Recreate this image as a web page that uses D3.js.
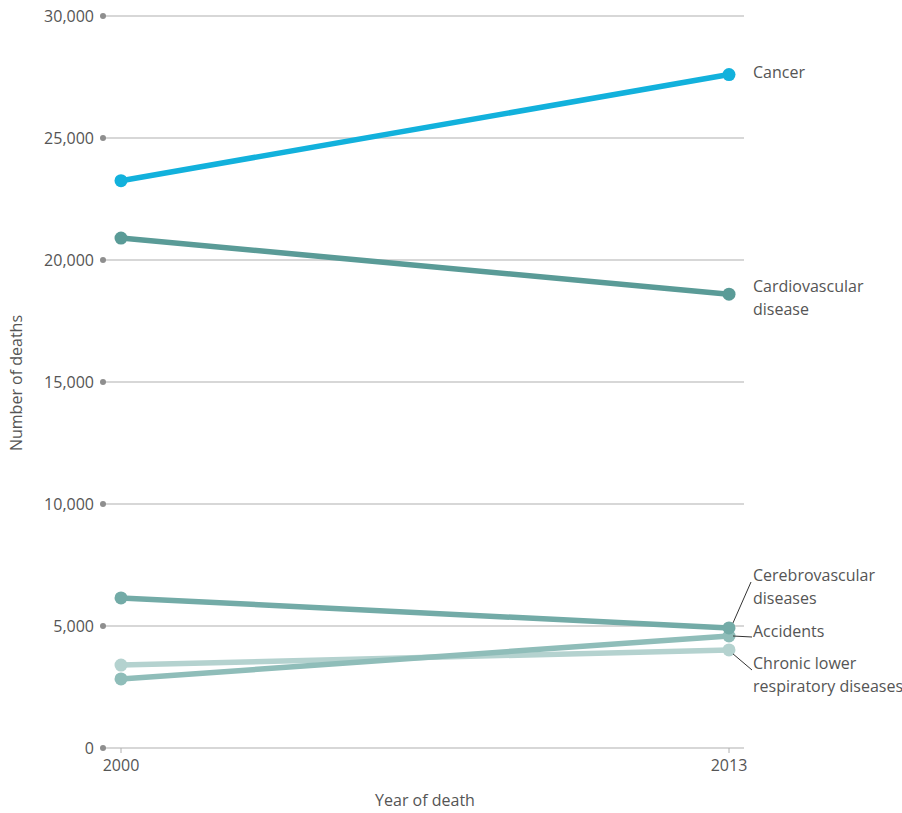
<!DOCTYPE html>
<html>
<head>
<meta charset="utf-8">
<script src="https://cdn.jsdelivr.net/npm/d3@7"></script>
<style>
  body { margin: 0; background: #fff; }
  text { font-family: "Open Sans", "Noto Sans", sans-serif; fill: #555; }
</style>
</head>
<body>
<div class="d3-canvas"></div>
<script>
const WIDTH = 902;
const HEIGHT = 813;

// Data
const years = [2000, 2013];
const causes = ['Cancer', 'Cardiovascular disease', 'Cerebrovascular diseases', 'Accidents', 'Chronic lower respiratory diseases'];
const cancer = [23250, 27600];
const cardiovascular = [20900, 18600];
const cerebrovascular = [6150, 4920];
const accidents = [2830, 4590];
const chronic = [3400, 4020];
const yTicks = [0, 5000, 10000, 15000, 20000, 25000, 30000];

const colors = ['#12b1dc', '#5a9b97', '#73aba7', '#8fbdb9', '#b4d2cf'];
const seriesValues = [cancer, cardiovascular, cerebrovascular, accidents, chronic];

// Label text split into lines, baseline of the first line
const labelLines = [
    ['Cancer'],
    ['Cardiovascular', 'disease'],
    ['Cerebrovascular', 'diseases'],
    ['Accidents'],
    ['Chronic lower', 'respiratory diseases']
];
const labelTop = [78, 292, 581, 637, 669];

const FONT = 16;

const margin = {top: 16, right: 158, bottom: 65, left: 103};
const chartWidth = WIDTH - margin.left - margin.right;
const chartHeight = HEIGHT - margin.top - margin.bottom;

const svg = d3.select('.d3-canvas')
    .append('svg')
        .attr('width', WIDTH)
        .attr('height', HEIGHT);

const chart = svg.append('g')
    .attr('transform', `translate(${margin.left}, ${margin.top})`);

const x = d3.scaleLinear()
    .domain(years)
    .range([18, 626]);
const y = d3.scaleLinear()
    .domain([0, 30000])
    .range([chartHeight, 0]);

// Gridlines with dot markers and labels
const yAxis = chart.append('g');
yTicks.forEach(t => {
    yAxis.append('line')
        .attr('x1', 0).attr('x2', chartWidth)
        .attr('y1', y(t)).attr('y2', y(t))
        .attr('stroke', '#b0b0b0')
        .attr('stroke-width', 1.2);
    yAxis.append('circle')
        .attr('cx', 0).attr('cy', y(t)).attr('r', 3)
        .attr('fill', '#8e8e8e');
    yAxis.append('text')
        .attr('x', -9).attr('y', y(t))
        .attr('dy', '0.35em')
        .attr('text-anchor', 'end')
        .attr('font-size', FONT)
        .text(d3.format(',')(t));
});

// X axis ticks
const xAxis = chart.append('g')
    .attr('transform', `translate(0, ${chartHeight})`);
years.forEach(yr => {
    xAxis.append('line')
        .attr('x1', x(yr)).attr('x2', x(yr))
        .attr('y1', 0).attr('y2', 5)
        .attr('stroke', '#b0b0b0');
    xAxis.append('text')
        .attr('x', x(yr)).attr('y', 23)
        .attr('text-anchor', 'middle')
        .attr('font-size', FONT)
        .text(yr);
});

// Axis titles
svg.append('text')
    .attr('x', 425).attr('y', 806)
    .attr('text-anchor', 'middle')
    .attr('font-size', FONT)
    .text('Year of death');
svg.append('text')
    .attr('transform', 'translate(22, 383) rotate(-90)')
    .attr('text-anchor', 'middle')
    .attr('font-size', FONT)
    .text('Number of deaths');

// Lines and dots (drawn bottom-up so the top series sit in front)
const line = d3.line()
    .x((d, i) => x(years[i]))
    .y(d => y(d));

const order = [4, 3, 2, 1, 0];
order.forEach(k => {
    const g = chart.append('g');
    g.append('path')
        .datum(seriesValues[k])
        .attr('d', line)
        .attr('fill', 'none')
        .attr('stroke', colors[k])
        .attr('stroke-width', 5.5);
    g.selectAll('circle')
        .data(seriesValues[k])
        .enter()
        .append('circle')
        .attr('cx', (d, i) => x(years[i]))
        .attr('cy', d => y(d))
        .attr('r', 6.5)
        .attr('fill', colors[k]);
});

// Series labels
const labels = svg.append('g');
causes.forEach((c, k) => {
    const t = labels.append('text')
        .attr('x', 753)
        .attr('y', labelTop[k])
        .attr('font-size', FONT);
    labelLines[k].forEach((ln, j) => {
        t.append('tspan')
            .attr('x', 753)
            .attr('dy', j === 0 ? 0 : 22.5)
            .text(ln);
    });
});

// Leader lines for the crowded bottom labels
const px = v => margin.left + x(years[1]);
const py = v => margin.top + y(v);
const leaders = [
    [cerebrovascular[1], 751, 582],
    [accidents[1], 752, 637],
    [chronic[1], 752, 670]
];
leaders.forEach(([v, lx, ly]) => {
    const sx = px(v) + 4;
    const sy = py(v) + (ly < py(v) ? -5 : (ly > py(v) + 3 ? 4 : 0));
    labels.append('line')
        .attr('x1', sx).attr('y1', sy)
        .attr('x2', lx).attr('y2', ly)
        .attr('stroke', '#333')
        .attr('stroke-width', 1);
});
</script>
</body>
</html>
